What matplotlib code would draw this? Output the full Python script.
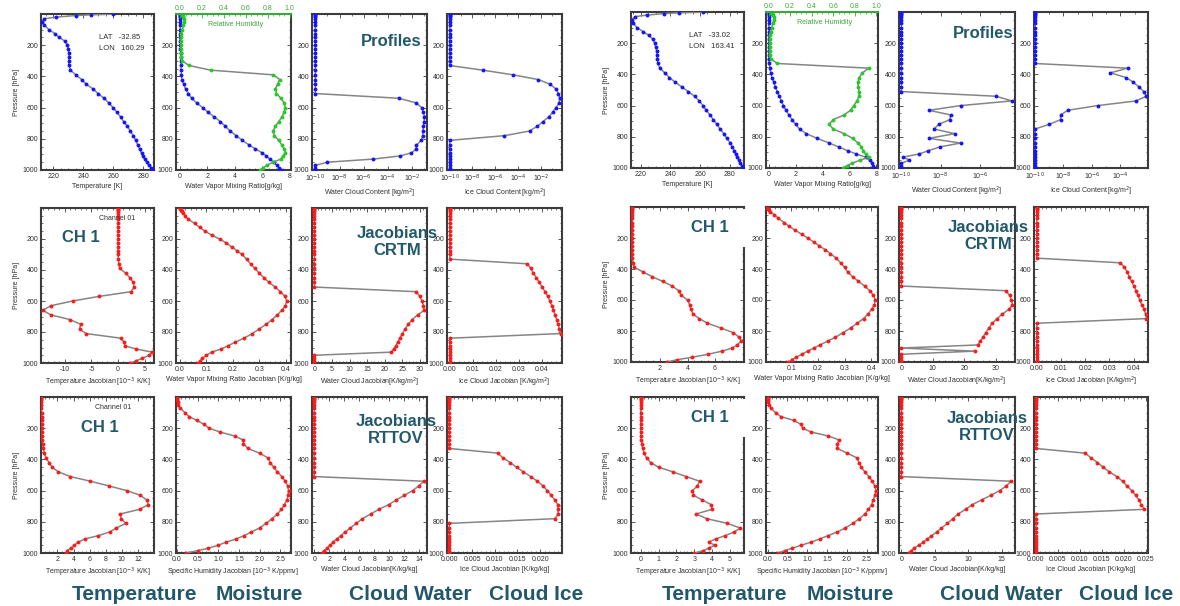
import matplotlib
matplotlib.use('Agg')
import matplotlib.pyplot as plt
from matplotlib.patches import Rectangle
from matplotlib.ticker import AutoMinorLocator, MultipleLocator, NullFormatter

plt.rcParams['font.family'] = ['Liberation Sans', 'DejaVu Sans']

# pressure levels [hPa] shared by every profile
pres = [1, 5, 10, 20, 30, 50, 70, 100, 125, 150, 175, 200, 225, 250, 275, 300,
        330, 360, 390, 420, 450, 480, 510, 540, 570, 600, 630, 660, 690, 720,
        750, 780, 810, 840, 865, 890, 910, 930, 950, 970, 985, 1000]

# ---------------- case A (left, LAT -32.85 LON 160.29) ----------------
temp_a = [260, 245, 235, 222, 214, 212.5, 214, 217, 221, 224, 228, 229.5, 230, 230.5, 230.5, 230.5,
          230.5, 231.5, 235, 239, 242, 246.5, 250, 254, 257, 260, 262.5, 265, 267, 269.5,
          271.5, 273.5, 275, 276.5, 277.7, 279, 280, 281, 282.5, 284, 285.3, 286.5]
wv_a = [0.003, 0.003, 0.003, 0.003, 0.003, 0.003, 0.003, 0.004, 0.005, 0.007, 0.01, 0.015, 0.02, 0.03, 0.04, 0.05,
        0.06, 0.07, 0.1, 0.13, 0.25, 0.4, 0.6, 0.85, 1.2, 1.65, 2.05, 2.5, 2.95, 3.3,
        3.65, 4.1, 4.55, 5.05, 5.5, 6.0, 6.3, 6.55, 6.85, 7.05, 7.2, 7.35]
rh_a = [0.02, 0.02, 0.03, 0.03, 0.04, 0.04, 0.03, 0.02, 0.01, 0.01, 0.01, 0.01, 0.01, 0.01, 0.01, 0.02,
        0.08, 0.28, 0.85, 0.91, 0.89, 0.87, 0.88, 0.92, 0.95, 0.96, 0.95, 0.93, 0.90, 0.87,
        0.85, 0.86, 0.90, 0.93, 0.95, 0.96, 0.94, 0.92, 0.85, 0.79, 0.76, 0.73]
lwc_log_a = [-10, -10, -10, -10, -10, -10, -10, -10, -10, -10, -10, -10, -10, -10, -10, -10,
             -10, -10, -10, -10, -10, -10, -10, -3.1, -1.65, -1.2, -1.05, -0.97, -1.0, -1.05,
             -1.1, -1.12, -1.23, -1.63, -1.65, -2.05, -3.0, -5.2, -9.0, -10, -10, -10]
iwc_log_a = [-10, -10, -10, -10, -10, -10, -10, -10, -10, -10, -10, -10, -10, -10, -10, -10,
             -10, -7.1, -4.45, -2.25, -1.2, -0.7, -0.48, -0.36, -0.43, -0.68, -0.98, -1.33, -1.83, -2.33,
             -3.0, -5.2, -10, -10, -10, -10, -10, -10, -10, -10, -10, -10]
crtm_t_a = [0.0, 0.0, 0.0, 0.0, 0.0, 0.0, 0.0, 0.0, 0.0, 0.0, 0.0, 0.0, 0.0, 0.0, 0.0, 0.0,
            0.05, 0.15, 0.3, 1.4, 2.2, 2.8, 3.0, 2.4, -3.5, -8.5, -12.5, -14.1, -12.5, -9.0,
            -7.0, -7.2, -6.0, 0.5, 1.1, 1.3, 3.4, 6.4, 5.8, 4.5, 3.4, 2.3]
crtm_q_a = [0.0, 0.001, 0.003, 0.006, 0.01, 0.02, 0.03, 0.055, 0.075, 0.095, 0.12, 0.15, 0.175, 0.195, 0.215, 0.235,
            0.252, 0.267, 0.283, 0.3, 0.318, 0.336, 0.36, 0.38, 0.397, 0.404, 0.399, 0.385, 0.368, 0.348,
            0.326, 0.3, 0.274, 0.242, 0.21, 0.18, 0.155, 0.12, 0.1, 0.085, 0.077, 0.07]
crtm_lw_a = [0, 0, 0, 0, 0, 0, 0, 0, 0, 0, 0, 0, 0, 0, 0, 0,
             0, 0, 0, 0, 0, 0, 0, 29.0, 29.9, 30.6, 31.0, 31.2, 29.3, 27.8,
             26.7, 25.8, 25.0, 24.3, 23.7, 23.1, 22.5, 21.8, 0, 0, 0, 0]
crtm_iw_a = [0, 0, 0, 0, 0, 0, 0, 0, 0, 0, 0, 0, 0, 0, 0, 0,
             0, 0.0337, 0.0351, 0.0363, 0.0376, 0.0389, 0.0400, 0.0414, 0.0425, 0.0434, 0.0443, 0.045, 0.0457, 0.0464,
             0.047, 0.0476, 0.0482, 0, 0, 0, 0, 0, 0, 0, 0, 0]
rttov_t_a = [0.0, 0.0, 0.0, 0.0, 0.0, 0.01, 0.01, 0.02, 0.03, 0.03, 0.04, 0.05, 0.06, 0.08, 0.11, 0.16,
             0.25, 0.37, 0.56, 0.95, 1.35, 2.1, 3.6, 6.1, 8.4, 10.6, 12.3, 13.1, 13.3, 12.2,
             9.8, 9.9, 10.5, 9.3, 8.5, 7.0, 5.4, 4.6, 4.1, 3.65, 3.2, 3.1]
rttov_q_a = [0.0, 0.0, 0.0, 0.01, 0.02, 0.04, 0.08, 0.19, 0.3, 0.48, 0.66, 0.78, 1.05, 1.4, 1.6, 1.61,
             1.72, 2.0, 2.2, 2.26, 2.34, 2.43, 2.54, 2.62, 2.68, 2.7, 2.69, 2.66, 2.6, 2.53,
             2.43, 2.3, 2.16, 2.0, 1.8, 1.62, 1.43, 1.2, 1.0, 0.75, 0.5, 0.22]
rttov_lw_a = [0, 0, 0, 0, 0, 0, 0, 0, 0, 0, 0, 0, 0, 0, 0, 0,
              0, 0, 0, 0, 0, 0, 0, 14.6, 13.9, 13.1, 12.0, 10.9, 9.9, 8.6,
              7.5, 6.4, 5.6, 4.8, 4.1, 3.5, 3.0, 2.5, 2.1, 1.7, 1.3, 1.0]
rttov_iw_a = [0, 0, 0, 0, 0, 0, 0, 0, 0, 0, 0, 0, 0, 0, 0, 0,
              0, 0.0107, 0.0118, 0.0134, 0.0148, 0.0163, 0.0179, 0.0194, 0.0206, 0.0216, 0.0224, 0.0232, 0.0239, 0.0239,
              0.024, 0.0232, 0, 0, 0, 0, 0, 0, 0, 0, 0, 0]

# ---------------- case B (right, LAT -33.02 LON 163.41) ----------------
temp_b = [262, 246, 236, 224, 216, 214, 215, 217.5, 221.5, 225.5, 228.3, 229.4, 230.2, 230.8, 231.0, 231.2,
          231.6, 233.0, 236.2, 239.4, 243.2, 247.7, 252.0, 256.3, 259.5, 262.0, 264.3, 266.6, 269.0, 271.3,
          273.6, 276.0, 278.0, 280.5, 281.8, 283.2, 284.2, 285.1, 286.2, 287.2, 288.0, 288.6]
wv_b = [0.01, 0.01, 0.01, 0.01, 0.01, 0.01, 0.01, 0.01, 0.01, 0.01, 0.01, 0.01, 0.01, 0.01, 0.02, 0.02,
        0.05, 0.1, 0.15, 0.25, 0.38, 0.5, 0.65, 0.8, 0.95, 1.1, 1.3, 1.5, 1.75, 2.0,
        2.3, 2.8, 3.6, 4.5, 5.2, 5.9, 6.5, 7.2, 7.5, 7.7, 7.75, 7.8]
rh_b = [0.02, 0.02, 0.03, 0.04, 0.05, 0.05, 0.04, 0.03, 0.02, 0.01, 0.01, 0.01, 0.01, 0.01, 0.01, 0.02,
        0.08, 0.93, 0.87, 0.84, 0.83, 0.83, 0.84, 0.84, 0.82, 0.79, 0.76, 0.70, 0.60, 0.56,
        0.60, 0.70, 0.78, 0.83, 0.86, 0.88, 0.90, 0.93, 0.85, 0.77, 0.73, 0.69]
lwc_log_b = [-10, -10, -10, -10, -10, -10, -10, -10, -10, -10, -10, -10, -10, -10, -10, -10,
             -10, -10, -10, -10, -10, -10, -10, -5.2, -4.4, -7.0, -8.6, -7.5, -7.55, -8.1,
             -8.35, -7.3, -8.6, -7.0, -8.05, -8.65, -9.1, -9.9, -9.6, -10, -10, -10]
iwc_log_b = [-10, -10, -10, -10, -10, -10, -10, -10, -10, -10, -10, -10, -10, -10, -10, -10,
             -10, -3.5, -4.7, -3.6, -3.1, -2.7, -2.35, -2.17, -2.9, -5.6, -7.7, -8.2, -8.2, -9.0,
             -10, -10, -10, -10, -10, -10, -10, -10, -10, -10, -10, -10]
crtm_t_b = [0.0, 0.0, 0.0, 0.0, 0.0, 0.0, 0.0, 0.0, 0.0, 0.0, 0.0, 0.0, 0.0, 0.0, 0.0, 0.0,
            0.0, 0.03, 0.15, 0.8, 1.45, 2.2, 2.9, 3.35, 3.55, 4.0, 4.15, 4.25, 4.4, 4.85,
            5.45, 6.4, 7.3, 7.75, 7.9, 7.6, 7.25, 6.5, 5.5, 4.3, 3.25, 2.5]
crtm_q_b = [0.008, 0.01, 0.012, 0.016, 0.022, 0.037, 0.051, 0.073, 0.093, 0.115, 0.139, 0.162, 0.184, 0.205, 0.227, 0.247,
            0.268, 0.285, 0.3, 0.312, 0.33, 0.352, 0.375, 0.394, 0.408, 0.415, 0.411, 0.401, 0.388, 0.371,
            0.347, 0.323, 0.295, 0.266, 0.237, 0.208, 0.185, 0.162, 0.14, 0.118, 0.103, 0.09]
crtm_lw_b = [0, 0, 0, 0, 0, 0, 0, 0, 0, 0, 0, 0, 0, 0, 0, 0,
             0, 0, 0, 0, 0, 0, 0, 33.2, 34.5, 35.0, 35.4, 34.3, 32.2, 30.5,
             29.0, 27.9, 26.9, 26.0, 25.2, 24.3, 0, 23.3, 0, 0, 0, 0]
crtm_iw_b = [0, 0, 0, 0, 0, 0, 0, 0, 0, 0, 0, 0, 0, 0, 0, 0,
             0, 0.0345, 0.0362, 0.0374, 0.0382, 0.0391, 0.0401, 0.041, 0.0417, 0.0425, 0.0433, 0.0443, 0.0449, 0.0452,
             0, 0, 0, 0, 0, 0, 0, 0, 0, 0, 0, 0]
rttov_t_b = [0.0, 0.0, 0.0, 0.0, 0.0, 0.0, 0.0, 0.0, 0.0, 0.0, 0.0, 0.0, 0.0, 0.01, 0.02, 0.06,
             0.11, 0.18, 0.32, 0.55, 1.0, 1.8, 2.55, 3.3, 3.17, 2.9, 2.95, 3.45, 3.95, 4.0,
             3.1, 3.7, 4.85, 5.58, 5.25, 4.7, 4.2, 3.8, 4.15, 3.8, 3.5, 3.0]
rttov_q_b = [0.0, 0.0, 0.0, 0.01, 0.02, 0.04, 0.08, 0.2, 0.33, 0.66, 0.84, 0.88, 1.1, 1.53, 1.8, 1.76,
             1.76, 2.0, 2.25, 2.3, 2.36, 2.45, 2.55, 2.64, 2.7, 2.73, 2.7, 2.66, 2.62, 2.54,
             2.45, 2.31, 2.15, 1.95, 1.76, 1.51, 1.31, 1.1, 0.85, 0.61, 0.43, 0.27]
rttov_lw_b = [0, 0, 0, 0, 0, 0, 0, 0, 0, 0, 0, 0, 0, 0, 0, 0,
              0, 0, 0, 0, 0, 0, 0, 16.4, 15.7, 14.7, 13.4, 12.0, 10.6, 9.6,
              8.5, 7.7, 6.9, 6.0, 5.3, 4.5, 3.9, 3.3, 2.6, 1.9, 1.5, 1.1]
rttov_iw_b = [0, 0, 0, 0, 0, 0, 0, 0, 0, 0, 0, 0, 0, 0, 0, 0,
              0, 0.0112, 0.0125, 0.014, 0.0153, 0.0167, 0.0184, 0.0197, 0.0207, 0.0218, 0.0227, 0.0234, 0.024, 0.0247,
              0, 0, 0, 0, 0, 0, 0, 0, 0, 0, 0, 0]

rh_ticks = [0.0, 0.2, 0.4, 0.6, 0.8, 1.0]
log_ticks = [-10, -8, -6, -4, -2]
bottom_titles = ['Temperature', 'Moisture', 'Cloud Water', 'Cloud Ice']

FIG_W, FIG_H = 1180, 606
GRAY = '#858585'
FRAME = '#3c3c3c'
TXT = '#2e2e2e'
TEAL = '#22596a'
BLUE = '#1414ff'
RED = '#ff1a1a'
GREEN = '#22cc22'
GREEN_TXT = '#3aa83a'

fig = plt.figure(figsize=(FIG_W / 100, FIG_H / 100), dpi=100)


def add_panel(left, top, width, height):
    return fig.add_axes([left / FIG_W, 1 - (top + height) / FIG_H, width / FIG_W, height / FIG_H])


def profile(ax, x, color):
    ax.plot(x, pres, color=GRAY, lw=1.1, marker='o', ms=2.8, mfc=color, mec=color, mew=0, zorder=3)


def finish(ax, xlim, ticks, labels, xlabel, first_col=False, log=False, top=True):
    ax.set_ylim(1000, 0)
    ax.set_yticks([200, 400, 600, 800, 1000])
    ax.yaxis.set_minor_locator(MultipleLocator(50))
    if log:
        ax.set_xscale('log')
        ax.set_xlim(10 ** xlim[0], 10 ** xlim[1])
        ax.set_xticks([10.0 ** t for t in ticks])
        ax.set_xticklabels(['10$^{%d}$' % t for t in ticks])
        ax.set_xticks([10.0 ** (t + 1) for t in ticks if t + 1 < xlim[1]], minor=True)
    else:
        ax.set_xlim(*xlim)
        ax.set_xticks(ticks)
        ax.set_xticklabels(labels)
        ax.xaxis.set_minor_locator(AutoMinorLocator())
    ax.xaxis.set_minor_formatter(NullFormatter())
    ax.set_xlabel(xlabel, fontsize=5, labelpad=2, color=TXT)
    if first_col:
        ax.set_ylabel('Pressure [hPa]', fontsize=5, labelpad=2, color=TXT)
    ax.tick_params(which='both', direction='in', top=top, right=True, labelsize=5,
                   labelcolor=TXT, color=FRAME, pad=2)
    ax.tick_params(which='major', length=3, width=0.6)
    ax.tick_params(which='minor', length=1.6, width=0.5)
    for s in ax.spines.values():
        s.set_linewidth(1.5)
        s.set_color(FRAME)


def fmt(vals, n):
    return [('%.' + str(n) + 'f') % v for v in vals]


def draw_group(cols, rows, d):
    # row 1: profiles
    ax = add_panel(cols[0][0], rows[0][0], cols[0][1], rows[0][1])
    profile(ax, d['temp'], BLUE)
    finish(ax, d['t_lim'], [220, 240, 260, 280], ['220', '240', '260', '280'], 'Temperature [K]', first_col=True)
    ax.text(0.51, 0.85, 'LAT   ' + d['lat'], transform=ax.transAxes, fontsize=5.5, color=TXT, va='center')
    ax.text(0.51, 0.78, 'LON   ' + d['lon'], transform=ax.transAxes, fontsize=5.5, color=TXT, va='center')

    ax = add_panel(cols[1][0], rows[0][0], cols[1][1], rows[0][1])
    profile(ax, d['wv'], BLUE)
    finish(ax, d['q_lim'], [0, 2, 4, 6, 8], ['0', '2', '4', '6', '8'], 'Water Vapor Mixing Ratio[g/kg]', top=False)
    ax.spines['top'].set_visible(False)
    ax2 = ax.twiny()
    ax2.set_xlim(d['q_lim'][0] / 8, d['q_lim'][1] / 8)
    ax2.plot(d['rh'], pres, color=GRAY, lw=1.1, marker='o', ms=2.8, mfc=GREEN, mec=GREEN, mew=0, zorder=2)
    ax2.set_xticks(rh_ticks)
    ax2.set_xticklabels(fmt(rh_ticks, 1))
    ax2.xaxis.set_minor_locator(AutoMinorLocator())
    ax2.tick_params(axis='x', which='both', direction='in', labelsize=5, labelcolor=GREEN_TXT,
                    color=GREEN_TXT, pad=1.5)
    ax2.tick_params(axis='x', which='major', length=3, width=0.6)
    ax2.tick_params(axis='x', which='minor', length=1.6, width=0.5)
    for k, s in ax2.spines.items():
        s.set_visible(k == 'top')
    ax2.spines['top'].set_color(GREEN_TXT)
    ax2.spines['top'].set_linewidth(1.5)
    ax2.text(0.52, 0.935, 'Relative Humidity', transform=ax2.transAxes, fontsize=5,
             color=GREEN_TXT, ha='center', va='center')

    ax = add_panel(cols[2][0], rows[0][0], cols[2][1], rows[0][1])
    profile(ax, [10.0 ** v for v in d['lwc']], BLUE)
    finish(ax, d['lwc_lim'], d['lwc_ticks'], None, 'Water Cloud Content [kg/m$^2$]', log=True)

    ax = add_panel(cols[3][0], rows[0][0], cols[3][1], rows[0][1])
    profile(ax, [10.0 ** v for v in d['iwc']], BLUE)
    finish(ax, d['iwc_lim'], d['iwc_ticks'], None, 'Ice Cloud Content [kg/m$^2$]', log=True)

    # row 2: CRTM jacobians, row 3: RTTOV jacobians
    for r, key in ((1, 'crtm'), (2, 'rttov')):
        top, h = rows[r]
        spec = d[key]
        for c in range(4):
            ax = add_panel(cols[c][0], top, cols[c][1], h)
            profile(ax, spec['data'][c], RED)
            ticks, nd = spec['ticks'][c]
            finish(ax, spec['lims'][c], ticks, fmt(ticks, nd), spec['labels'][c], first_col=(c == 0))
            if c == 0 and d['channel']:
                ax.text(spec['chan_x'], 0.935, 'Channel 01', transform=ax.transAxes, fontsize=5,
                        color=TXT, ha='center', va='center')


case_a = {
    'temp': temp_a, 'wv': wv_a, 'rh': rh_a, 'lwc': lwc_log_a, 'iwc': iwc_log_a,
    'lat': '-32.85', 'lon': '160.29', 'channel': True,
    't_lim': (211.8, 287.3), 'q_lim': (-0.3, 8.1),
    'lwc_lim': (-10.28, -0.76), 'lwc_ticks': log_ticks,
    'iwc_lim': (-10.23, -0.16), 'iwc_ticks': log_ticks,
    'crtm': {
        'data': [crtm_t_a, crtm_q_a, crtm_lw_a, crtm_iw_a],
        'lims': [(-14.4, 6.7), (-0.015, 0.42), (-0.7, 32.0), (-0.0012, 0.0487)],
        'ticks': [([-10, -5, 0, 5], 0), ([0.0, 0.1, 0.2, 0.3, 0.4], 1),
                  ([0, 5, 10, 15, 20, 25, 30], 0), ([0.0, 0.01, 0.02, 0.03, 0.04], 2)],
        'labels': ['Temperature Jacobian [10$^{-3}$ K/K]', 'Water Vapor Mixing Ratio Jacobian [K/g/kg]',
                   'Water Cloud Jacobian[K/kg/m$^2$]', 'Ice Cloud Jacobian [K/kg/m$^2$]'],
        'chan_x': 0.67},
    'rttov': {
        'data': [rttov_t_a, rttov_q_a, rttov_lw_a, rttov_iw_a],
        'lims': [(-0.05, 14.0), (-0.02, 2.76), (-0.3, 15.0), (-0.0005, 0.0248)],
        'ticks': [([2, 4, 6, 8, 10, 12], 0), ([0.0, 0.5, 1.0, 1.5, 2.0, 2.5], 1),
                  ([0, 2, 4, 6, 8, 10, 12, 14], 0), ([0.0, 0.005, 0.01, 0.015, 0.02], 3)],
        'labels': ['Temperature Jacobian [10$^{-3}$ K/K]', 'Specific Humidity Jacobian [10$^{-3}$ K/ppmv]',
                   'Water Cloud Jacobian[K/kg/kg]', 'Ice Cloud Jacobian [K/kg/kg]'],
        'chan_x': 0.64},
}

case_b = {
    'temp': temp_b, 'wv': wv_b, 'rh': rh_b, 'lwc': lwc_log_b, 'iwc': iwc_log_b,
    'lat': '-33.02', 'lon': '163.41', 'channel': False,
    't_lim': (213.5, 289.6), 'q_lim': (-0.19, 8.12),
    'lwc_lim': (-10.12, -4.24), 'lwc_ticks': [-10, -8, -6],
    'iwc_lim': (-10.07, -2.06), 'iwc_ticks': [-10, -8, -6, -4],
    'crtm': {
        'data': [crtm_t_b, crtm_q_b, crtm_lw_b, crtm_iw_b],
        'lims': [(-0.1, 8.1), (0.006, 0.425), (-0.75, 36.2), (-0.0011, 0.0459)],
        'ticks': [([2, 4, 6], 0), ([0.1, 0.2, 0.3, 0.4], 1),
                  ([0, 10, 20, 30], 0), ([0.0, 0.01, 0.02, 0.03, 0.04], 2)],
        'labels': ['Temperature Jacobian [10$^{-3}$ K/K]', 'Water Vapor Mixing Ratio Jacobian [K/g/kg]',
                   'Water Cloud Jacobian[K/kg/m$^2$]', 'Ice Cloud Jacobian [K/kg/m$^2$]'],
        'chan_x': 0.67},
    'rttov': {
        'data': [rttov_t_b, rttov_q_b, rttov_lw_b, rttov_iw_b],
        'lims': [(-0.55, 5.79), (-0.04, 2.78), (-0.35, 17.0), (-0.00045, 0.0255)],
        'ticks': [([0, 1, 2, 3, 4, 5], 0), ([0.0, 0.5, 1.0, 1.5, 2.0, 2.5], 1),
                  ([0, 5, 10, 15], 0), ([0.0, 0.005, 0.01, 0.015, 0.02, 0.025], 3)],
        'labels': ['Temperature Jacobian [10$^{-3}$ K/K]', 'Specific Humidity Jacobian [10$^{-3}$ K/ppmv]',
                   'Water Cloud Jacobian[K/kg/kg]', 'Ice Cloud Jacobian [K/kg/kg]'],
        'chan_x': 0.64},
}

cols_a = [(41, 113), (176, 115), (312, 115), (447, 115)]
cols_b = [(631, 113), (766, 112), (899, 116), (1034, 114)]
rows_a = [(14, 156), (208, 155), (397, 156)]
rows_b = [(12, 156), (207, 155), (397, 156)]

draw_group(cols_a, rows_a, case_a)
draw_group(cols_b, rows_b, case_b)

# white boxes behind the right-hand "CH 1" labels hide part of the frame
for y0, y1 in ((209, 247), (399, 437)):
    fig.add_artist(Rectangle((740 / FIG_W, 1 - y1 / FIG_H), 10 / FIG_W, (y1 - y0) / FIG_H,
                             transform=fig.transFigure, facecolor='white', edgecolor='none', zorder=5))


def fig_text(x, y, s, size, **kw):
    fig.text(x / FIG_W, 1 - y / FIG_H, s, fontsize=size, fontweight='bold', color=TEAL,
             ha='center', va='center', zorder=10, **kw)


fig_text(391, 42, 'Profiles', 12)
fig_text(983, 34, 'Profiles', 12)
fig_text(397, 242, 'Jacobians\nCRTM', 12, linespacing=1.1)
fig_text(988, 236, 'Jacobians\nCRTM', 12, linespacing=1.1)
fig_text(396, 430, 'Jacobians\nRTTOV', 12, linespacing=1.1)
fig_text(987, 427, 'Jacobians\nRTTOV', 12, linespacing=1.1)
fig_text(81, 237, 'CH 1', 12)
fig_text(100, 428, 'CH 1', 12)
fig_text(710, 228, 'CH 1', 12)
fig_text(710, 418, 'CH 1', 12)

for x, s in zip([134, 259, 410, 536], bottom_titles):
    fig_text(x, 595, s, 15)
for x, s in zip([725, 850, 1001, 1126], bottom_titles):
    fig_text(x, 595, s, 15)

fig.savefig('out.png', dpi=100)
